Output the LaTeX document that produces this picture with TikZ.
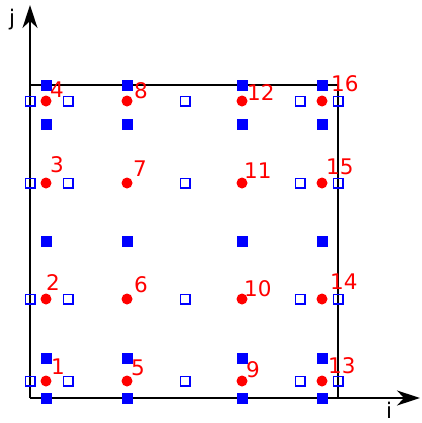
\documentclass[tikz,border=0pt]{standalone}
\usepackage{fontspec}
\setmainfont{DejaVu Sans}
\usetikzlibrary{arrows.meta}

\begin{document}
\begin{tikzpicture}[x=1pt, y=-1pt, every node/.style={font=\fontsize{21.5}{21.5}\selectfont}]
\tikzstyle{cell} = [circle, fill=red, inner sep=0pt, minimum size=11pt]
\tikzstyle{face} = [rectangle, fill=blue, inner sep=0pt, minimum size=11pt]
\tikzstyle{edge} = [rectangle, draw=blue, line width=1.6pt, inner sep=0pt, minimum size=9.4pt]
\tikzstyle{num} = [red, anchor=base west, inner sep=0pt]
\tikzstyle{axis} = [line width=1.8pt, -{Stealth[length=23pt,width=15pt,inset=7pt]}]
\tikzstyle{frame} = [line width=1.8pt]

\useasboundingbox (0,0) rectangle (421,423);

% axes and domain
\coordinate (O) at (30,398);
\coordinate (iend) at (420,398);
\coordinate (jend) at (30,5);
\coordinate (tl) at (30,85);
\coordinate (tr) at (338,85);
\coordinate (br) at (338,398);
\draw [axis] (O) -- (iend);
\draw [axis] (O) -- (jend);
\draw [frame] (tl) -- (tr) -- (br);
\node (ilabel) [anchor=base, inner sep=0pt] at (389,418) {i};
\node (jlabel) [anchor=base] at (12,25) {j};

% cells and faces
\foreach \x [count=\c] in {46,127,242,322} {
  \foreach \y [count=\r] in {381,299,183,101}
    \node (c\c\r) [cell] at (\x,\y) {};
  \foreach \y [count=\r] in {398,358,241,124,85}
    \node (f\c\r) [face] at (\x,\y) {};
}
\foreach \x [count=\c] in {30,68,185,300,338}
  \foreach \y [count=\r] in {381,299,183,101}
    \node (e\c\r) [edge] at (\x,\y) {};

% numbering
\node (n1) [num] at (51,374) {1};
\node (n2) [num] at (46,290) {2};
\node (n3) [num] at (50,172) {3};
\node (n4) [num] at (50,97) {4};
\node (n5) [num] at (131,375) {5};
\node (n6) [num] at (134,292) {6};
\node (n7) [num] at (133,176) {7};
\node (n8) [num] at (134,98) {8};
\node (n9) [num] at (246,377) {9};
\node (n10) [num] at (244,296) {10};
\node (n11) [num] at (244,178) {11};
\node (n12) [num] at (247,100) {12};
\node (n13) [num] at (328,373) {13};
\node (n14) [num] at (330,289) {14};
\node (n15) [num] at (326,174) {15};
\node (n16) [num] at (331,91) {16};

\end{tikzpicture}
\end{document}
